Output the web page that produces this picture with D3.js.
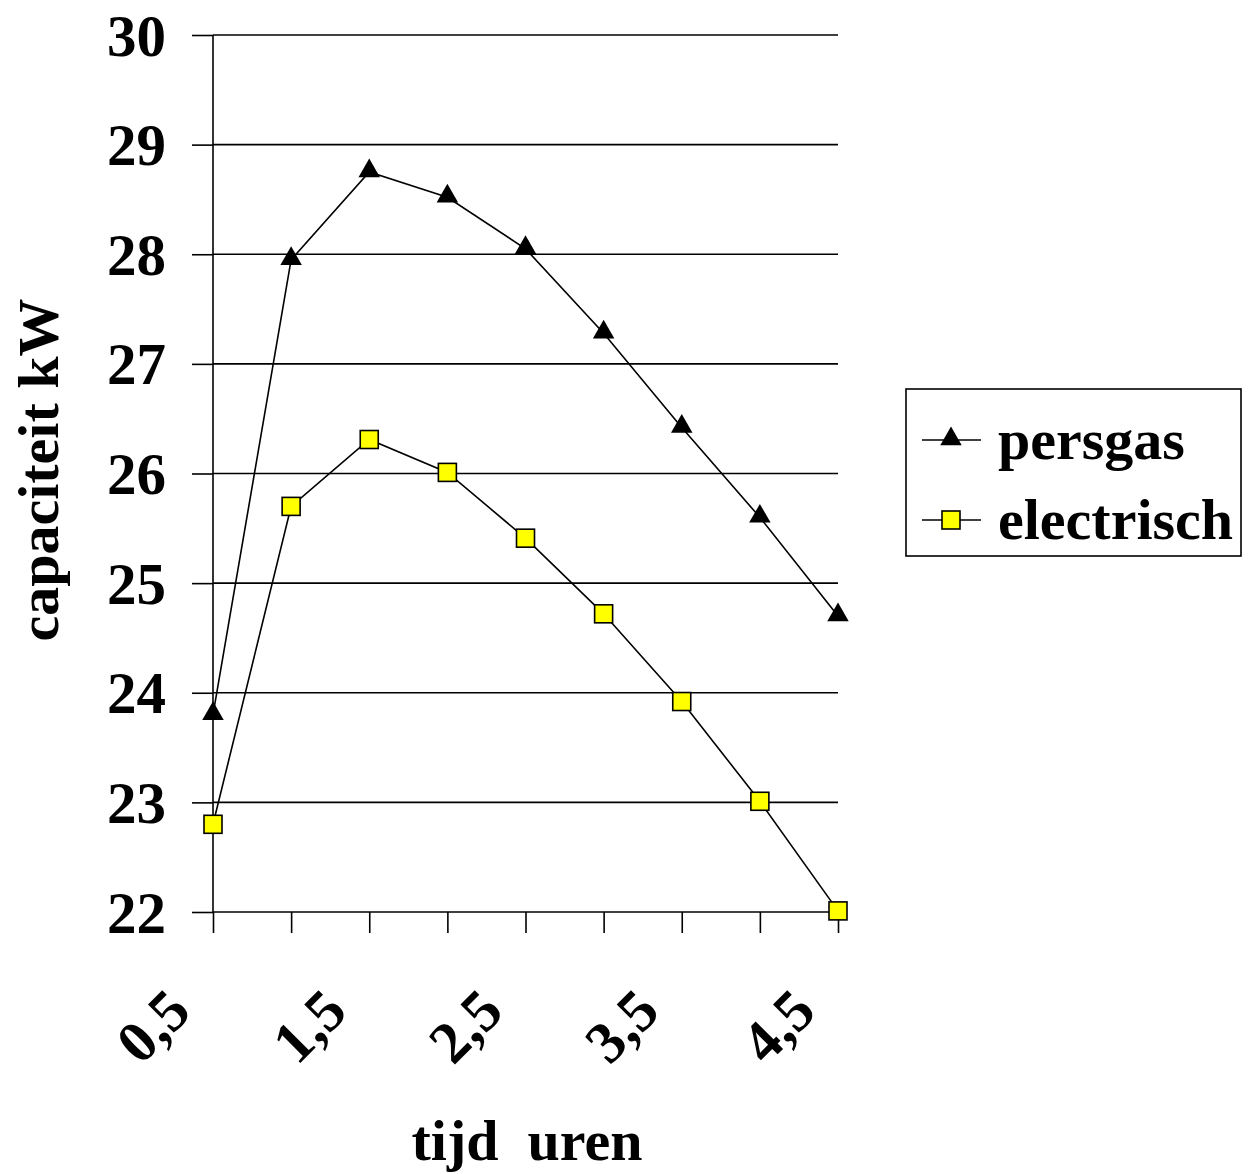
<!DOCTYPE html>
<html>
<head>
<meta charset="utf-8">
<script src="https://cdn.jsdelivr.net/npm/d3@7"></script>
<style>
  html, body { margin: 0; padding: 0; background: #fff; }
  text { font-family: "Liberation Serif", "Times New Roman", serif; font-weight: bold; }
</style>
</head>
<body>
<svg id="chart" width="1250" height="1174"></svg>
<script>
// Time in hours (categories) and measured capacity in kW
const hours = [0.5, 1, 1.5, 2, 2.5, 3, 3.5, 4, 4.5];
const persgas = [23.8, 27.95, 28.75, 28.52, 28.05, 27.28, 26.42, 25.6, 24.7];
const electrisch = [22.8, 25.7, 26.31, 26.01, 25.41, 24.72, 23.92, 23.01, 22.01];
const yTicks = [22, 23, 24, 25, 26, 27, 28, 29, 30];
const xLabelHours = [0.5, 1.5, 2.5, 3.5, 4.5];
const seriesNames = ["persgas", "electrisch"];

const svg = d3.select("#chart");
const plotLeft = 213, plotRight = 838, plotTop = 35, plotBottom = 912;

const x = d3.scalePoint().domain(hours).range([plotLeft, plotRight]).padding(0);
const y = d3.scaleLinear().domain([22, 30]).range([plotBottom, plotTop]);
const fmt = v => String(v).replace(".", ",");

// left tick marks and value labels
const yAxis = svg.append("g").attr("transform", `translate(${plotLeft},0)`)
  .call(d3.axisLeft(y).tickValues(yTicks).tickSizeInner(21).tickSizeOuter(0).tickPadding(26).tickFormat(d => d));
yAxis.select(".domain").remove();
yAxis.selectAll(".tick line").attr("stroke", "#000").attr("stroke-width", 1.6);
yAxis.selectAll(".tick text").attr("font-size", 59).attr("fill", "#000")
  .attr("font-family", "Liberation Serif, Times New Roman, serif").attr("font-weight", "bold").attr("dy", "0.34em");

// horizontal gridlines
svg.append("g").selectAll("line").data(yTicks).join("line")
  .attr("x1", plotLeft).attr("x2", plotRight)
  .attr("y1", d => y(d)).attr("y2", d => y(d))
  .attr("stroke", "#000").attr("stroke-width", 1.6);

// vertical axis line
svg.append("line").attr("x1", plotLeft).attr("x2", plotLeft).attr("y1", plotTop).attr("y2", plotBottom)
  .attr("stroke", "#000").attr("stroke-width", 1.6);

// x axis ticks
const xAxis = svg.append("g").attr("transform", `translate(0,${plotBottom})`)
  .call(d3.axisBottom(x).tickSizeInner(21).tickSizeOuter(0).tickFormat(""));
xAxis.select(".domain").remove();
xAxis.selectAll(".tick line").attr("stroke", "#000").attr("stroke-width", 1.6);

// rotated category labels on every other tick
svg.append("g").selectAll("text").data(xLabelHours).join("text")
  .attr("transform", d => `translate(${x(d) - 20},${1014}) rotate(-45)`)
  .attr("text-anchor", "end")
  .attr("font-size", 59)
  .attr("fill", "#000")
  .text(fmt);

// series lines and markers
const line = d3.line().x((d, i) => x(hours[i])).y(d => y(d));
svg.append("path").datum(persgas).attr("d", line)
  .attr("fill", "none").attr("stroke", "#000").attr("stroke-width", 1.6);
svg.append("path").datum(electrisch).attr("d", line)
  .attr("fill", "none").attr("stroke", "#000").attr("stroke-width", 1.6);

const tri = d3.symbol().type(d3.symbolTriangle).size(200);
svg.append("g").selectAll("path").data(persgas).join("path")
  .attr("transform", (d, i) => `translate(${x(hours[i])},${y(d) - 1})`)
  .attr("d", tri).attr("fill", "#000");

const sq = 18;
svg.append("g").selectAll("rect").data(electrisch).join("rect")
  .attr("x", (d, i) => x(hours[i]) - sq / 2).attr("y", d => y(d) - sq / 2)
  .attr("width", sq).attr("height", sq)
  .attr("fill", "#ffff00").attr("stroke", "#000").attr("stroke-width", 1.6);

// axis titles
svg.append("text").attr("x", 527).attr("y", 1160).attr("text-anchor", "middle")
  .attr("font-size", 58).attr("fill", "#000").attr("xml:space", "preserve").text("tijd  uren");
svg.append("text").attr("transform", "translate(58,470) rotate(-90)").attr("text-anchor", "middle")
  .attr("font-size", 58).attr("fill", "#000").text("capaciteit kW");

// legend
const lg = svg.append("g");
lg.append("rect").attr("x", 906).attr("y", 389).attr("width", 335).attr("height", 167)
  .attr("fill", "#fff").attr("stroke", "#000").attr("stroke-width", 1.6);
const legY = [440, 520];
seriesNames.forEach((name, i) => {
  const cy = legY[i];
  lg.append("line").attr("x1", 922).attr("x2", 981).attr("y1", cy).attr("y2", cy)
    .attr("stroke", "#000").attr("stroke-width", 1.6);
  if (i === 0) {
    lg.append("path").attr("d", tri).attr("transform", `translate(951,${cy - 1})`).attr("fill", "#000");
  } else {
    lg.append("rect").attr("x", 951 - sq / 2).attr("y", cy - sq / 2).attr("width", sq).attr("height", sq)
      .attr("fill", "#ffff00").attr("stroke", "#000").attr("stroke-width", 1.6);
  }
  lg.append("text").attr("x", 998).attr("y", cy + 19).attr("font-size", 58).attr("fill", "#000").text(name);
});
</script>
</body>
</html>
